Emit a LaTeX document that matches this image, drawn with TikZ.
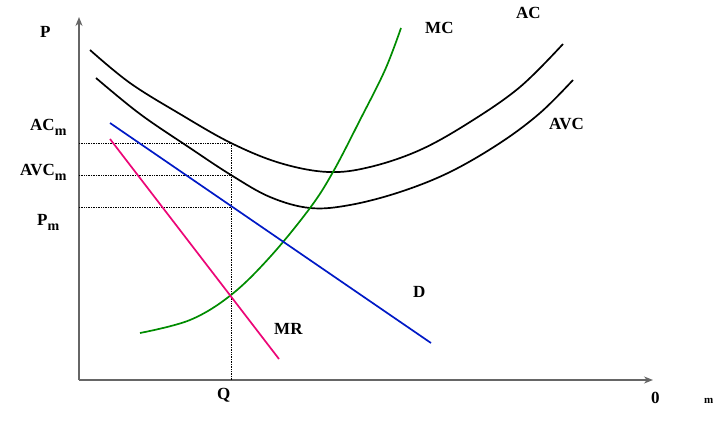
\documentclass[tikz,border=0pt]{standalone}
\usepackage{fontspec}
\setmainfont{Liberation Serif}
\usetikzlibrary{arrows.meta}
\newcommand{\msub}{\raisebox{-4.5pt}{\fontsize{14}{14}\selectfont m}}
\begin{document}
\begin{tikzpicture}[x=1pt,y=-1pt,
  lbl/.style={font=\fontsize{17}{17}\selectfont\bfseries, inner sep=0pt},
  curve/.style={line width=1.7pt},
  axis/.style={line width=1.5pt, draw=black!60, -{Stealth[length=9pt,width=7pt]}, color=black!60},
  guide/.style={densely dotted, line width=0.7pt}]
\useasboundingbox (0,0) rectangle (725,430);
\fill[white] (0,0) rectangle (725,430);
\coordinate (O) at (79,380);
\coordinate (Ytop) at (79,17);
\coordinate (Xend) at (653,380);
\draw[axis] (O) -- (Ytop);
\draw[axis] (O) -- (Xend);
% guides
\coordinate (acm) at (79,143);
\coordinate (avcm) at (79,175);
\coordinate (pm) at (79,207);
\coordinate (qa) at (231,143);
\coordinate (qb) at (231,175);
\coordinate (qc) at (231,207);
\coordinate (qbot) at (231,380);
\draw[guide] (acm) -- (qa);
\draw[guide] (avcm) -- (qb);
\draw[guide] (pm) -- (qc);
\draw[guide] (qa) -- (qbot);
% AC
\draw[curve] plot[smooth, tension=0.6] coordinates {(90,50) (130,83) (180,114) (231,143) (280,163) (328,172) (370,167) (420,150) (470,122) (520,87) (563,44)};
% AVC
\draw[curve] plot[smooth, tension=0.6] coordinates {(96,78) (140,114) (190,148) (231,175) (270,197) (310,208) (350,205) (400,192) (450,172) (500,143) (540,113) (573,80)};
% MC
\draw[curve, color=green!55!black] plot[smooth, tension=0.6] coordinates {(140,333) (190,320) (231,295) (270,257) (310,208) (333,172) (360,120) (385,70) (401,28)};
% D
\coordinate (d1) at (110,123);
\coordinate (d2) at (431,343);
\draw[curve, color=blue!75!black!90!cyan] (d1) -- (d2);
% MR
\coordinate (mr1) at (110,139);
\coordinate (mr2) at (279,359);
\draw[curve, color=magenta!80!red] (mr1) -- (mr2);
% labels
\node[lbl, anchor=base west] (P) at (40,38) {P};
\node[lbl, anchor=base west] (ACm) at (30,131) {AC\msub};
\node[lbl, anchor=base west] (AVCm) at (20,176) {AVC\msub};
\node[lbl, anchor=base west] (Pm) at (37,226) {P\msub};
\node[lbl, anchor=base west] (MC) at (425,34) {MC};
\node[lbl, anchor=base west] (AC) at (516,19) {AC};
\node[lbl, anchor=base west] (AVC) at (549,130) {AVC};
\node[lbl, anchor=base west] (D) at (413,298) {D};
\node[lbl, anchor=base west] (MR) at (274,334) {MR};
\node[lbl, anchor=base west] (Q) at (217,399) {Q};
\node[lbl, anchor=base west] (zero) at (651,403) {0};
\node[lbl, anchor=base west, font=\fontsize{11}{11}\selectfont\bfseries] (msubnode) at (704,403) {m};
\end{tikzpicture}
\end{document}
